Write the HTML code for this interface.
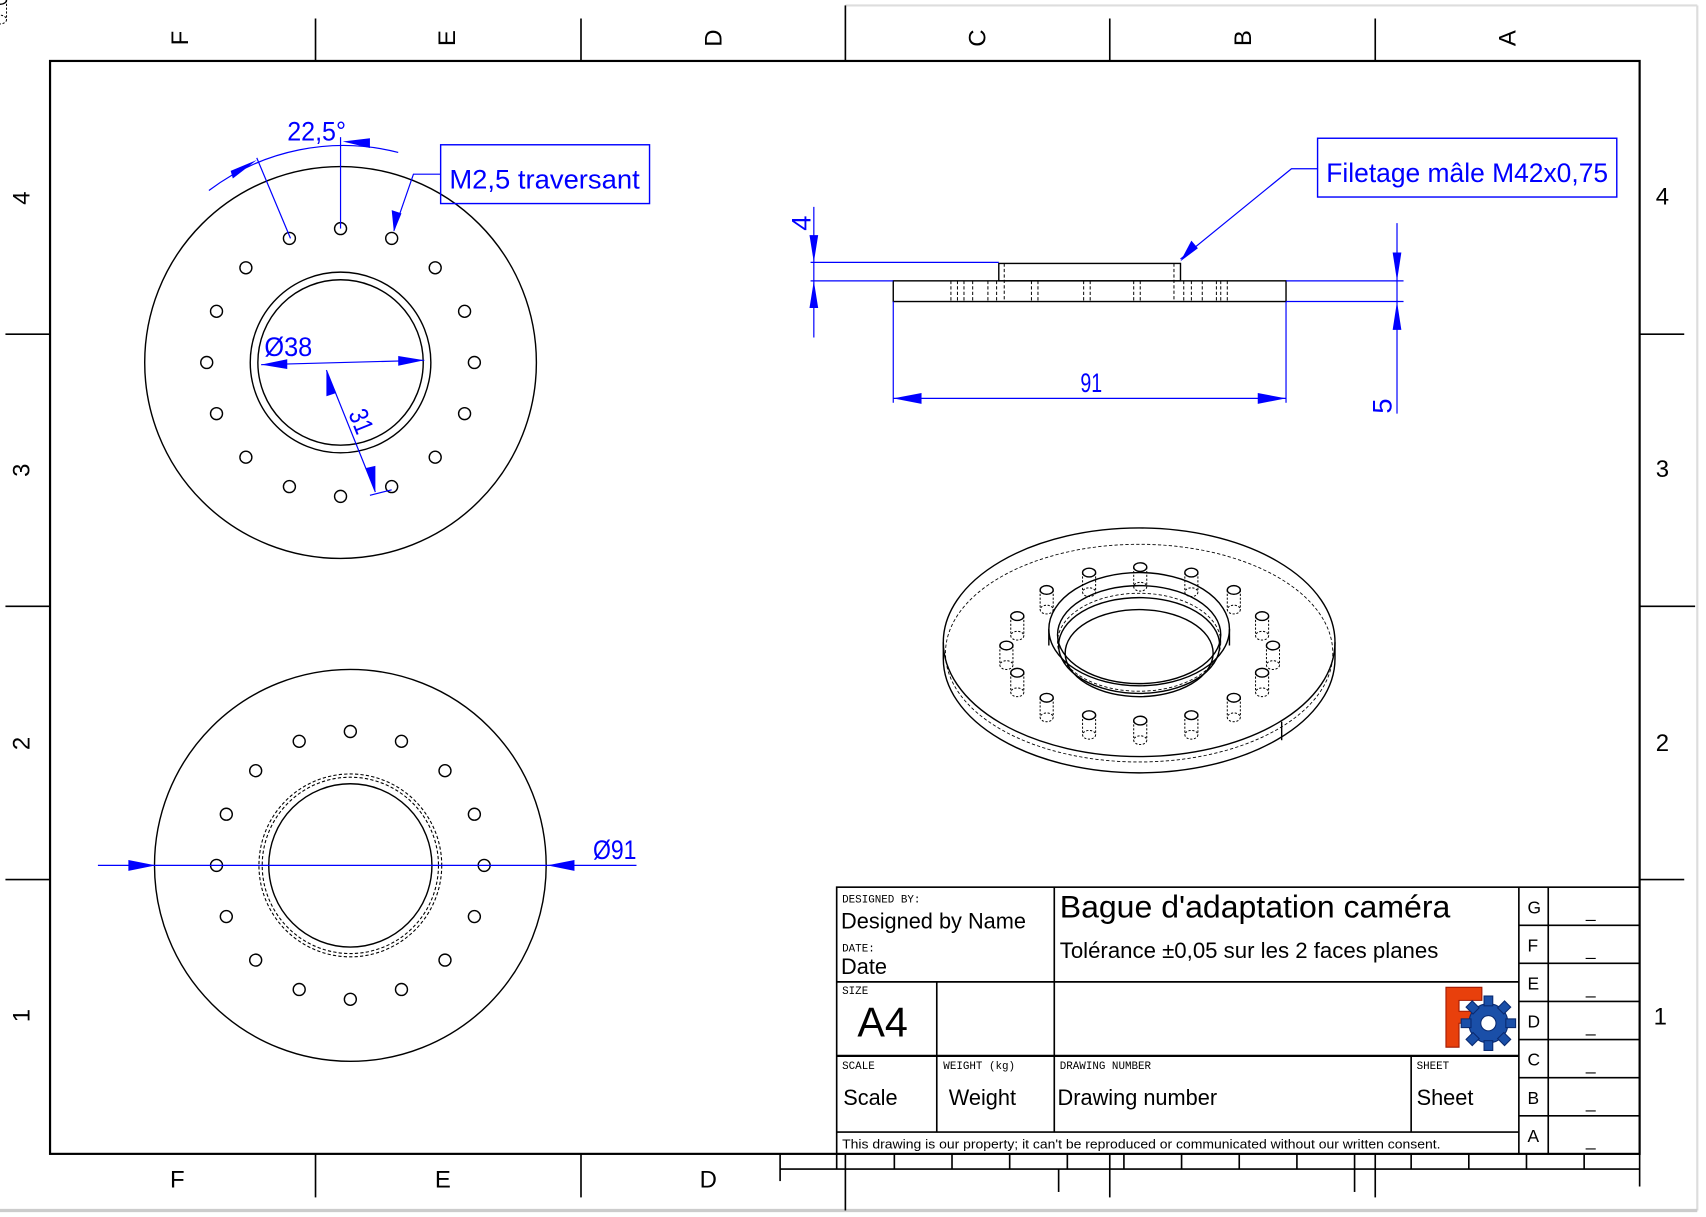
<!DOCTYPE html>
<html><head><meta charset="utf-8"><style>
html,body{margin:0;padding:0;background:#fff;}
svg{display:block;}
.t{font-family:"Liberation Sans Narrow","Liberation Sans",sans-serif;}
.m{font-family:"Liberation Mono",monospace;}
</style></head><body>
<svg width="1706" height="1217" viewBox="0 0 1568 1118" preserveAspectRatio="none" xmlns="http://www.w3.org/2000/svg">
<rect width="1568" height="1118" fill="#fff"/>
<g stroke="#000" stroke-width="1.5" fill="none">
<line x1="777" y1="5" x2="1560" y2="5" stroke="#ddd" stroke-width="2"/>
<line x1="1560" y1="5" x2="1560" y2="1112" stroke="#ddd" stroke-width="2"/>
<line x1="0" y1="1112" x2="1560" y2="1112" stroke="#ccc" stroke-width="3"/>
<rect x="46" y="56" width="1461" height="1004" stroke-width="2"/>
<line x1="290" y1="17" x2="290" y2="56"/><line x1="534" y1="17" x2="534" y2="56"/>
<line x1="777" y1="5" x2="777" y2="56"/><line x1="1020" y1="17" x2="1020" y2="56"/>
<line x1="1264" y1="17" x2="1264" y2="56"/>
<line x1="5" y1="307" x2="46" y2="307"/><line x1="5" y1="557" x2="46" y2="557"/><line x1="5" y1="808" x2="46" y2="808"/>
<line x1="1507" y1="307" x2="1548" y2="307"/><line x1="1507" y1="557" x2="1558" y2="557"/><line x1="1507" y1="808" x2="1548" y2="808"/>
<line x1="290" y1="1060" x2="290" y2="1100"/><line x1="534" y1="1060" x2="534" y2="1100"/>
<line x1="777" y1="1060" x2="777" y2="1112"/><line x1="1264" y1="1060" x2="1264" y2="1100"/>
<line x1="1020" y1="1060" x2="1020" y2="1100"/>
<line x1="717" y1="1074" x2="1507" y2="1074"/>
<line x1="717" y1="1060" x2="717" y2="1085"/>
<line x1="769" y1="1060" x2="769" y2="1074"/><line x1="822" y1="1060" x2="822" y2="1074"/>
<line x1="875" y1="1060" x2="875" y2="1074"/><line x1="928" y1="1060" x2="928" y2="1074"/>
<line x1="981" y1="1060" x2="981" y2="1074"/><line x1="1033" y1="1060" x2="1033" y2="1074"/>
<line x1="1086" y1="1060" x2="1086" y2="1074"/><line x1="1139" y1="1060" x2="1139" y2="1074"/>
<line x1="1192" y1="1060" x2="1192" y2="1074"/><line x1="1245" y1="1060" x2="1245" y2="1074"/>
<line x1="1297" y1="1060" x2="1297" y2="1074"/><line x1="1350" y1="1060" x2="1350" y2="1074"/>
<line x1="1403" y1="1060" x2="1403" y2="1074"/><line x1="1456" y1="1060" x2="1456" y2="1074"/>
<line x1="1507" y1="1060" x2="1507" y2="1090"/>
<line x1="973" y1="1074" x2="973" y2="1095"/><line x1="1245" y1="1074" x2="1245" y2="1095"/>
<rect x="769" y="815" width="738" height="245"/>
<line x1="769" y1="902" x2="1396" y2="902"/>
<line x1="769" y1="970" x2="1396" y2="970" stroke-width="2"/>
<line x1="769" y1="1040" x2="1396" y2="1040"/>
<line x1="861" y1="902" x2="861" y2="1040"/>
<line x1="969" y1="815" x2="969" y2="1040"/>
<line x1="1297" y1="970" x2="1297" y2="1040"/>
<line x1="1396" y1="815" x2="1396" y2="1060"/>
<line x1="1423" y1="815" x2="1423" y2="1060"/>
<line x1="1396" y1="850" x2="1507" y2="850"/><line x1="1396" y1="885" x2="1507" y2="885"/>
<line x1="1396" y1="920" x2="1507" y2="920"/><line x1="1396" y1="955" x2="1507" y2="955"/>
<line x1="1396" y1="990" x2="1507" y2="990"/><line x1="1396" y1="1025" x2="1507" y2="1025"/>
</g>
<g class="t" font-size="22" fill="#000" text-anchor="middle">
<text transform="translate(165,35) rotate(-90)" dy="8">F</text>
<text transform="translate(410,35) rotate(-90)" dy="8">E</text>
<text transform="translate(655,35) rotate(-90)" dy="8">D</text>
<text transform="translate(898,35) rotate(-90)" dy="8">C</text>
<text transform="translate(1142,35) rotate(-90)" dy="8">B</text>
<text transform="translate(1385,35) rotate(-90)" dy="8">A</text>
<text transform="translate(19,182) rotate(-90)" dy="8">4</text>
<text transform="translate(19,432) rotate(-90)" dy="8">3</text>
<text transform="translate(19,683) rotate(-90)" dy="8">2</text>
<text transform="translate(19,933) rotate(-90)" dy="8">1</text>
<text x="1528" y="188">4</text><text x="1528" y="438">3</text>
<text x="1528" y="690">2</text><text x="1526" y="941">1</text>
<text x="163" y="1091">F</text><text x="407" y="1091">E</text><text x="651" y="1091">D</text>
</g>
<g fill="#000">
<text class="m" x="774" y="829" font-size="10">DESIGNED BY:</text>
<text class="t" x="773" y="853" font-size="20">Designed by Name</text>
<text class="m" x="774" y="874" font-size="10">DATE:</text>
<text class="t" x="773" y="895" font-size="20">Date</text>
<text class="m" x="774" y="913" font-size="10">SIZE</text>
<text class="t" x="788" y="952" font-size="38">A4</text>
<text class="m" x="774" y="982" font-size="10">SCALE</text>
<text class="m" x="867" y="982" font-size="10">WEIGHT (kg)</text>
<text class="m" x="974" y="982" font-size="10">DRAWING NUMBER</text>
<text class="m" x="1302" y="982" font-size="10">SHEET</text>
<text class="t" x="775" y="1015" font-size="20">Scale</text>
<text class="t" x="872" y="1015" font-size="20">Weight</text>
<text class="t" x="972" y="1015" font-size="20">Drawing number</text>
<text class="t" x="1302" y="1015" font-size="20">Sheet</text>
<text class="t" x="974" y="843" font-size="29" textLength="359" lengthAdjust="spacingAndGlyphs">Bague d'adaptation caméra</text>
<text class="t" x="974" y="880" font-size="20" textLength="348" lengthAdjust="spacingAndGlyphs">Tolérance ±0,05 sur les 2 faces planes</text>
<text class="t" x="774" y="1055" font-size="12" textLength="550" lengthAdjust="spacingAndGlyphs">This drawing is our property; it can't be reproduced or communicated without our written consent.</text>
<g class="t" font-size="16">
<text x="1404" y="839">G</text><text x="1404" y="874">F</text><text x="1404" y="909">E</text>
<text x="1404" y="944">D</text><text x="1404" y="979">C</text><text x="1404" y="1014">B</text><text x="1404" y="1049">A</text>
</g>
<g class="t" font-size="16" text-anchor="middle">
<text x="1462" y="843">_</text><text x="1462" y="878">_</text><text x="1462" y="913">_</text>
<text x="1462" y="948">_</text><text x="1462" y="983">_</text><text x="1462" y="1018">_</text><text x="1462" y="1053">_</text>
</g>
</g>
<path d="M1329,907 h33 v12 h-21 v10 h15 v11 h-15 v22 h-12 z" fill="#e8400c" stroke="#a01800"/>
<g transform="translate(1368,940)">
<circle r="18" fill="#1a4fa8" stroke="#0a2a70"/>
<g fill="#1a4fa8" stroke="#0a2a70">
<rect x="-4" y="-25" width="8" height="9"/><rect x="-4" y="16" width="8" height="9"/>
<rect x="-25" y="-4" width="9" height="8"/><rect x="16" y="-4" width="9" height="8"/>
<rect x="-4" y="-25" width="8" height="9" transform="rotate(45)"/><rect x="-4" y="16" width="8" height="9" transform="rotate(45)"/>
<rect x="-25" y="-4" width="9" height="8" transform="rotate(45)"/><rect x="16" y="-4" width="9" height="8" transform="rotate(45)"/>
</g>
<circle r="7" fill="#fff" stroke="#0a2a70"/>
</g>

<g stroke="#000" stroke-width="1.3" fill="none">
<circle cx="313" cy="333" r="180"/>
<circle cx="313" cy="333" r="83"/>
<circle cx="313" cy="333" r="76"/>
<g id="holes1">
<circle cx="313" cy="210" r="5.5"/><circle cx="360" cy="219" r="5.5"/><circle cx="400" cy="246" r="5.5"/>
<circle cx="427" cy="286" r="5.5"/><circle cx="436" cy="333" r="5.5"/><circle cx="427" cy="380" r="5.5"/>
<circle cx="400" cy="420" r="5.5"/><circle cx="360" cy="447" r="5.5"/><circle cx="313" cy="456" r="5.5"/>
<circle cx="266" cy="447" r="5.5"/><circle cx="226" cy="420" r="5.5"/><circle cx="199" cy="380" r="5.5"/>
<circle cx="190" cy="333" r="5.5"/><circle cx="199" cy="286" r="5.5"/><circle cx="226" cy="246" r="5.5"/>
<circle cx="266" cy="219" r="5.5"/>
</g>
</g>
<g stroke="#000" stroke-width="1.3" fill="none">
<circle cx="322" cy="795" r="180"/>
<circle cx="322" cy="795" r="75"/>
<circle cx="322" cy="795" r="84" stroke-dasharray="3,2" stroke-width="1"/>
<circle cx="322" cy="795" r="81" stroke-dasharray="3,2" stroke-width="1"/>
<use href="#holes1" transform="translate(9,462)"/>
</g>
<g stroke="#000" stroke-width="1.3" fill="none">
<rect x="821" y="258" width="361" height="19"/>
<rect x="918" y="242" width="167" height="16"/>
<g stroke-dasharray="3,2" stroke-width="0.9">
<line x1="923" y1="242" x2="923" y2="277"/><line x1="1079" y1="242" x2="1079" y2="277"/>
<line x1="874" y1="258" x2="874" y2="277"/><line x1="880" y1="258" x2="880" y2="277"/>
<line x1="886" y1="258" x2="886" y2="277"/><line x1="894" y1="258" x2="894" y2="277"/>
<line x1="908" y1="258" x2="908" y2="277"/><line x1="916" y1="258" x2="916" y2="277"/>
<line x1="948" y1="258" x2="948" y2="277"/><line x1="954" y1="258" x2="954" y2="277"/>
<line x1="996" y1="258" x2="996" y2="277"/><line x1="1002" y1="258" x2="1002" y2="277"/>
<line x1="1042" y1="258" x2="1042" y2="277"/><line x1="1048" y1="258" x2="1048" y2="277"/>
<line x1="1088" y1="258" x2="1088" y2="277"/><line x1="1095" y1="258" x2="1095" y2="277"/>
<line x1="1105" y1="258" x2="1105" y2="277"/><line x1="1118" y1="258" x2="1118" y2="277"/>
<line x1="1122" y1="258" x2="1122" y2="277"/><line x1="1128" y1="258" x2="1128" y2="277"/>
</g>
</g>
<g stroke="#000" stroke-width="1.3" fill="none">
<path d="M867,590 v15 A180,105 0 0 0 1227,605 v-15"/>
<ellipse cx="1047" cy="590" rx="180" ry="105"/>
<ellipse cx="1047" cy="600" rx="178" ry="100" stroke-dasharray="3,2" stroke-width="0.8"/>
<line x1="1178" y1="663" x2="1178" y2="680"/>
<ellipse cx="1047" cy="578" rx="83" ry="52"/>
<ellipse cx="1047" cy="583" rx="75" ry="45"/>
<ellipse cx="1047" cy="593" rx="74" ry="44"/>
<ellipse cx="1047" cy="590" rx="75" ry="45" stroke-dasharray="3,2" stroke-width="0.8"/>
<ellipse cx="1047" cy="600" rx="68" ry="40"/>
<path d="M964,578 v15 M1130,578 v15" />
<g id="hole">
<ellipse cx="0" cy="0" rx="6" ry="4"/><path d="M-6,0 v18 M6,0 v18" stroke-dasharray="2,1.5" stroke-width="0.9"/>
<ellipse cx="0" cy="18" rx="6" ry="4" stroke-dasharray="2,1.5" stroke-width="0.9"/>
</g>
</g>
<g stroke="#000" stroke-width="1.3" fill="none">
<use href="#hole" x="1048" y="521"/><use href="#hole" x="1095" y="526"/><use href="#hole" x="1134" y="542"/>
<use href="#hole" x="1160" y="566"/><use href="#hole" x="1170" y="593"/><use href="#hole" x="1160" y="618"/>
<use href="#hole" x="1134" y="641"/><use href="#hole" x="1095" y="657"/><use href="#hole" x="1048" y="662"/>
<use href="#hole" x="1001" y="657"/><use href="#hole" x="962" y="641"/><use href="#hole" x="935" y="618"/>
<use href="#hole" x="925" y="593"/><use href="#hole" x="935" y="566"/><use href="#hole" x="962" y="542"/>
<use href="#hole" x="1001" y="526"/>
</g>

<g stroke="#0000ff" stroke-width="1.1" fill="none">
<path d="M192,175 A205,205 0 0 1 366,140"/>
<line x1="267" y1="219" x2="236" y2="145"/>
<line x1="313" y1="210" x2="313" y2="126"/>
<rect x="405" y="133" width="192" height="54" stroke-width="1.3"/>
<polyline points="405,160 380,160 362,212"/>
<line x1="240" y1="335" x2="390" y2="331"/>
<line x1="300" y1="340" x2="345" y2="452"/>
<line x1="340" y1="455" x2="360" y2="450"/>
<line x1="90" y1="795" x2="585" y2="795"/>
<line x1="748" y1="190" x2="748" y2="310"/>
<line x1="745" y1="241" x2="918" y2="241"/>
<line x1="745" y1="258" x2="821" y2="258"/>
<line x1="1284" y1="205" x2="1284" y2="380"/>
<line x1="1182" y1="258" x2="1290" y2="258"/>
<line x1="1182" y1="277" x2="1290" y2="277"/>
<line x1="821" y1="277" x2="821" y2="370"/>
<line x1="1182" y1="277" x2="1182" y2="370"/>
<line x1="821" y1="366" x2="1182" y2="366"/>
<rect x="1211" y="127" width="275" height="54" stroke-width="1.3"/>
<polyline points="1211,155 1187,155 1085,238"/>
</g>
<g fill="#0000ff">
<polygon points="236,147 212,157 214,164"/>
<polygon points="315,130 340,127 340,136"/>
<polygon points="362,213 360,193 369,196"/>
<polygon points="240,335 264,330 264,339"/>
<polygon points="390,331 366,327 366,336"/>
<polygon points="300,340 300,364 309,361"/>
<polygon points="345,452 336,430 345,428"/>
<polygon points="143,795 118,790 118,800"/>
<polygon points="503,795 528,790 528,800"/>
<polygon points="748,241 744,216 752,216"/>
<polygon points="748,258 744,283 752,283"/>
<polygon points="1284,258 1280,232 1288,232"/>
<polygon points="1284,277 1280,303 1288,303"/>
<polygon points="821,366 847,361 847,371"/>
<polygon points="1182,366 1156,361 1156,371"/>
<polygon points="1085,240 1095,221 1101,228"/>
</g>
<g class="t" fill="#0000ff" font-size="25">
<text x="264" y="129" textLength="54" lengthAdjust="spacingAndGlyphs">22,5°</text>
<text x="413" y="173" textLength="175" lengthAdjust="spacingAndGlyphs">M2,5 traversant</text>
<text x="243" y="327" textLength="44" lengthAdjust="spacingAndGlyphs">Ø38</text>
<text transform="translate(320,380) rotate(68)" textLength="22" lengthAdjust="spacingAndGlyphs">31</text>
<text x="545" y="789" textLength="40" lengthAdjust="spacingAndGlyphs">Ø91</text>
<text x="993" y="360" textLength="20" lengthAdjust="spacingAndGlyphs">91</text>
<text transform="translate(745,212) rotate(-90)">4</text>
<text transform="translate(1279,380) rotate(-90)">5</text>
<text x="1219" y="167" textLength="259" lengthAdjust="spacingAndGlyphs">Filetage mâle M42x0,75</text>
</g>
</svg>
</body></html>
